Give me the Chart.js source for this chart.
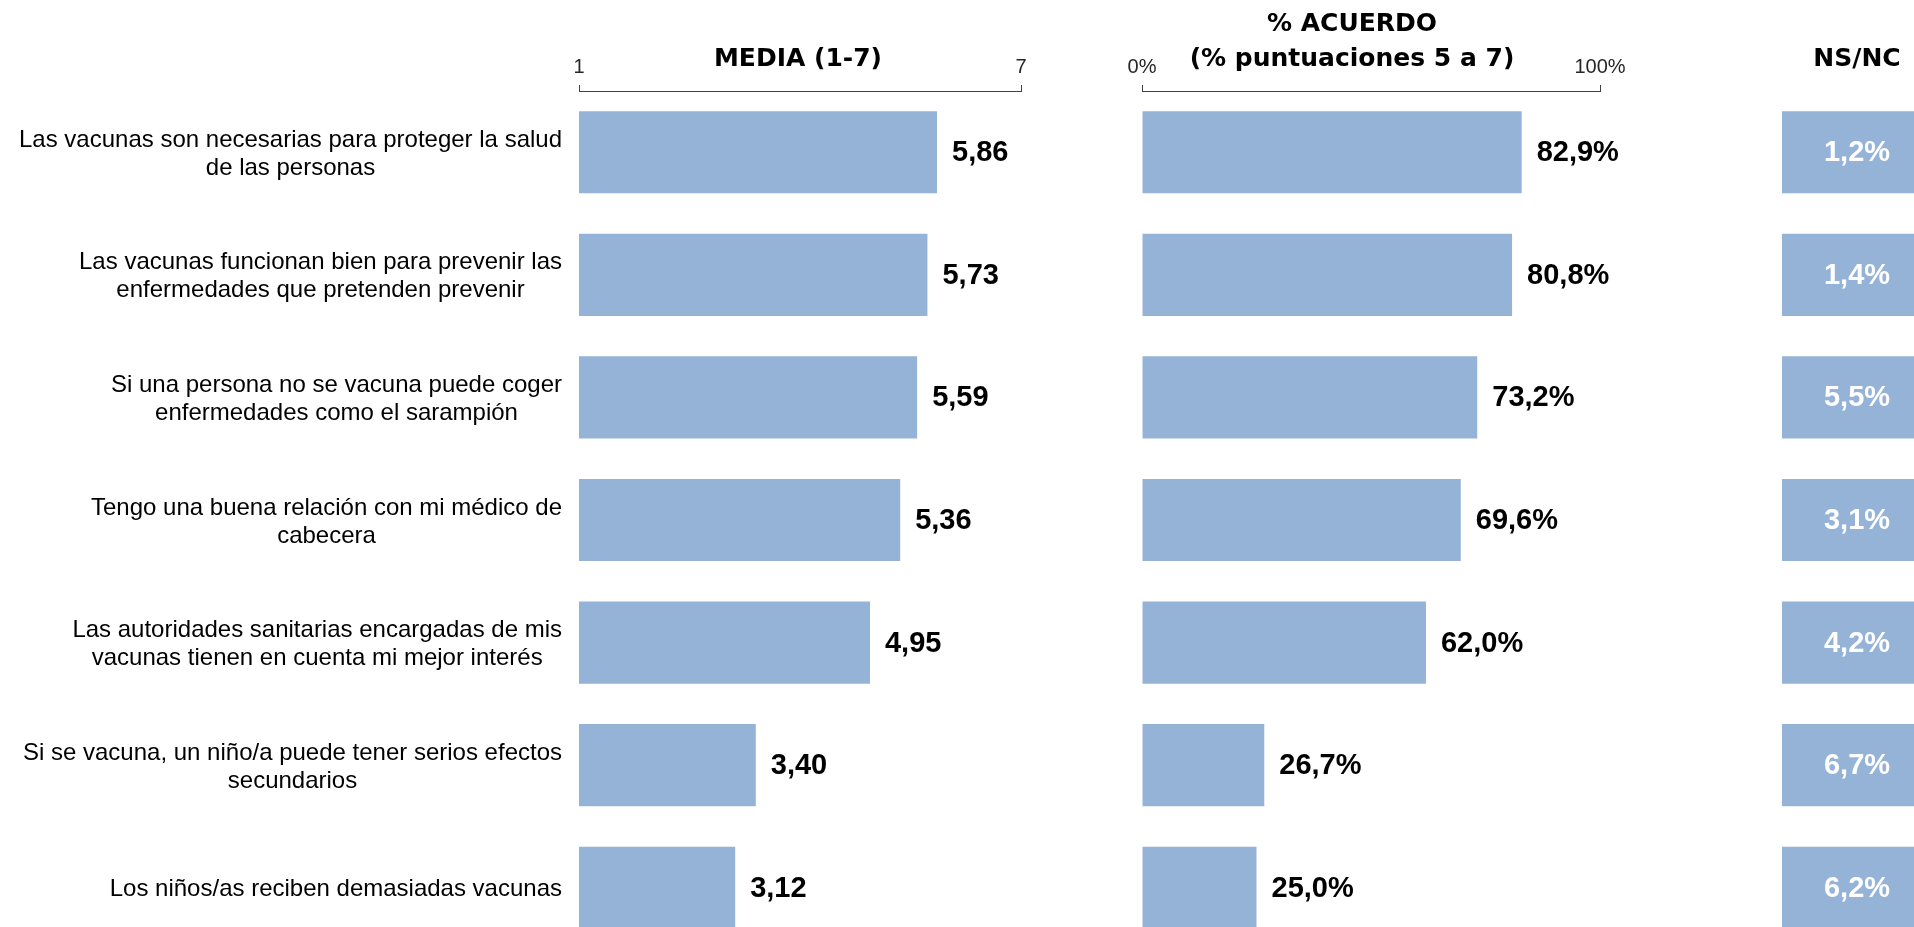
<!DOCTYPE html>
<html>
<head>
<meta charset="utf-8">
<script src="https://cdn.jsdelivr.net/npm/chart.js@4"></script>
<style>
html, body { margin: 0; padding: 0; background: #fff; width: 1914px; height: 927px; overflow: hidden; }
.panel { position: absolute; top: 0; }
</style>
</head>
<body>
<div class="panel" style="left:0px"><canvas id="mediaChart" width="1100" height="949"></canvas></div>
<div class="panel" style="left:1100px"><canvas id="acuerdoChart" width="600" height="949"></canvas></div>
<div class="panel" style="left:1700px"><canvas id="nsncChart" width="240" height="949"></canvas></div>
<script>
// statements (each one is a list of lines, as they wrap in the original)
const categories = [
    ['Las vacunas son necesarias para proteger la salud', 'de las personas'],
    ['Las vacunas funcionan bien para prevenir las', 'enfermedades que pretenden prevenir'],
    ['Si una persona no se vacuna puede coger', 'enfermedades como el sarampión'],
    ['Tengo una buena relación con mi médico de', 'cabecera'],
    ['Las autoridades sanitarias encargadas de mis', 'vacunas tienen en cuenta mi mejor interés'],
    ['Si se vacuna, un niño/a puede tener serios efectos', 'secundarios'],
    ['Los niños/as reciben demasiadas vacunas']
];

//values of each panel
const mediaValues = [5.86, 5.73, 5.59, 5.36, 4.95, 3.40, 3.12];
const acuerdoValues = [82.9, 80.8, 73.2, 69.6, 62.0, 26.7, 25.0];
const nsncValues = [1.2, 1.4, 5.5, 3.1, 4.2, 6.7, 6.2];

//tick labels at the ends of the axes
const mediaTicks = [1, 7];
const acuerdoTicks = [0, 100];

const barColor = '#95B3D7';
const labelFont = '"Liberation Sans", Arial, sans-serif';
const headerFont = '"DejaVu Sans", sans-serif';

const comma = (v, d) => v.toFixed(d).replace('.', ',');

//draws the value next to (or inside) each bar
const valueLabels = {
    id: 'valueLabels',
    afterDatasetsDraw(chart, args, opts) {
        const ctx = chart.ctx;
        const area = chart.chartArea;
        const data = chart.data.datasets[0].data;
        ctx.save();
        ctx.font = 'bold 29px ' + labelFont;
        ctx.fillStyle = opts.color;
        ctx.textBaseline = 'middle';
        chart.getDatasetMeta(0).data.forEach((bar, i) => {
            const text = opts.format(data[i]);
            if (opts.inside) {
                ctx.textAlign = 'center';
                ctx.fillText(text, (area.left + area.right) / 2, bar.y + 1);
            } else {
                ctx.textAlign = 'left';
                ctx.fillText(text, bar.x + 15, bar.y + 1);
            }
        });
        ctx.restore();
    }
};

//panel headings
const headers = {
    id: 'headers',
    afterDraw(chart, args, opts) {
        const ctx = chart.ctx;
        const area = chart.chartArea;
        const cx = (area.left + area.right) / 2 + (opts.dx || 0);
        ctx.save();
        ctx.font = 'bold 25px ' + headerFont;
        ctx.fillStyle = '#000';
        ctx.textAlign = 'center';
        ctx.textBaseline = 'middle';
        opts.lines.forEach(l => ctx.fillText(l.text, cx, l.y));
        ctx.restore();
    }
};

//statement labels: block right aligned, lines centred inside the block
const categoryLabels = {
    id: 'categoryLabels',
    afterDraw(chart, args, opts) {
        const ctx = chart.ctx;
        const yScale = chart.scales.y;
        ctx.save();
        ctx.font = '24px ' + labelFont;
        ctx.fillStyle = '#000';
        ctx.textAlign = 'center';
        ctx.textBaseline = 'middle';
        chart.data.labels.forEach((lines, i) => {
            const widest = Math.max(...lines.map(l => ctx.measureText(l).width));
            const cx = opts.right - widest / 2;
            const y0 = yScale.getPixelForValue(i) + 2 - (lines.length - 1) * opts.lineHeight / 2;
            lines.forEach((l, k) => ctx.fillText(l, cx, y0 + k * opts.lineHeight));
        });
        ctx.restore();
    }
};

function topAxis(min, max, tickList, fmt) {
    return {
        position: 'top',
        min: min,
        max: max,
        offset: false,
        afterBuildTicks: s => { s.ticks = tickList.map(v => ({ value: v })); },
        afterFit: s => { s.height = 91; },
        ticks: {
            callback: fmt,
            color: '#262626',
            font: { family: labelFont, size: 20 },
            padding: 6,
            maxRotation: 0,
            autoSkip: false
        },
        grid: { display: true, drawOnChartArea: false, drawTicks: true, tickLength: 6, color: '#404040' },
        border: { display: true, color: '#404040', width: 1 }
    };
}

function baseOptions(pad, xScale) {
    return {
        indexAxis: 'y',
        responsive: false,
        animation: false,
        layout: { padding: pad },
        scales: {
            x: xScale,
            y: { display: false }
        },
        plugins: {
            legend: { display: false },
            tooltip: { enabled: false }
        }
    };
}

function barData(values) {
    return {
        labels: categories,
        datasets: [{
            data: values,
            backgroundColor: barColor,
            borderWidth: 0,
            categoryPercentage: 1,
            barPercentage: 0.67
        }]
    };
}

//MEDIA (1-7)
const mediaOptions = baseOptions({ left: 579, right: 79, top: 0, bottom: 0 },
    topAxis(1, 7, mediaTicks, v => String(v)));
mediaOptions.plugins.valueLabels = { color: '#000', format: v => comma(v, 2) };
mediaOptions.plugins.headers = { dx: -2, lines: [{ text: 'MEDIA (1-7)', y: 59 }] };
mediaOptions.plugins.categoryLabels = { right: 562, lineHeight: 28 };
new Chart(document.getElementById('mediaChart').getContext('2d'), {
    type: 'bar',
    data: barData(mediaValues),
    options: mediaOptions,
    plugins: [valueLabels, headers, categoryLabels]
});

//% ACUERDO
const acuerdoOptions = baseOptions({ left: 42, right: 100, top: 0, bottom: 0 },
    topAxis(0, 100, acuerdoTicks, v => v + '%'));
acuerdoOptions.plugins.valueLabels = { color: '#000', format: v => comma(v, 1) + '%' };
acuerdoOptions.plugins.headers = {
    dx: -19,
    lines: [{ text: '% ACUERDO', y: 24 }, { text: '(% puntuaciones 5 a 7)', y: 59 }]
};
new Chart(document.getElementById('acuerdoChart').getContext('2d'), {
    type: 'bar',
    data: barData(acuerdoValues),
    options: acuerdoOptions,
    plugins: [valueLabels, headers]
});

//NS/NC - the boxes fill the panel, the value is written inside
const nsncOptions = baseOptions({ left: 82, right: 8, top: 91, bottom: 0 },
    { display: false, min: 0, max: 1 });
nsncOptions.plugins.valueLabels = { color: '#fff', inside: true, format: v => comma(v, 1) + '%' };
nsncOptions.plugins.headers = { lines: [{ text: 'NS/NC', y: 59 }] };
new Chart(document.getElementById('nsncChart').getContext('2d'), {
    type: 'bar',
    data: barData(nsncValues),
    options: nsncOptions,
    plugins: [valueLabels, headers]
});
</script>
</body>
</html>
